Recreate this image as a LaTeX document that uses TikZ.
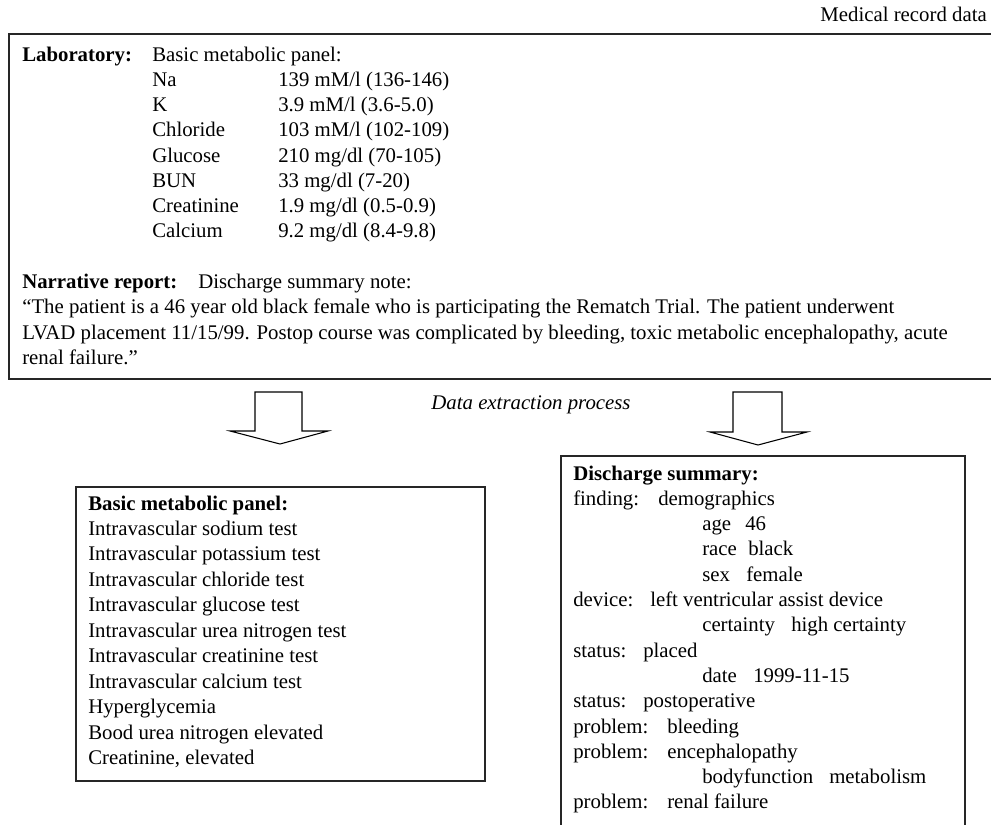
\documentclass[tikz,border=0pt]{standalone}
\usepackage{fontspec}
\setmainfont{Liberation Serif}
\newcount\tcnt
% one line of text, placed by its left end and the middle of its x-height
\newcommand\rowtxt[3]{\global\advance\tcnt by 1 \node[txt] (t\the\tcnt) at (#1,#2) {#3};}
\begin{document}
\begin{tikzpicture}[x=0.75pt,y=-0.75pt,
  txt/.style={anchor=mid west,inner sep=0pt,font=\fontsize{15.6}{18.75}\selectfont},
  frame/.style={draw=black!85,line width=1.1pt},
  hollow/.style={draw=black,line width=0.8pt,fill=white,line join=miter}]
\useasboundingbox (0,0) rectangle (991,824);

% title
\node[txt,anchor=mid east] (title) at (987,18) {Medical record data};

% source record
\draw[frame] (9,34) rectangle (1000,379);
\rowtxt{22}{58}{\textbf{Laboratory:}}
\rowtxt{152}{58}{Basic metabolic panel:}
\rowtxt{152}{83.25}{Na}         \rowtxt{278}{83.25}{139 mM/l (136-146)}
\rowtxt{152}{108.5}{K}          \rowtxt{278}{108.5}{3.9 mM/l (3.6-5.0)}
\rowtxt{152}{133.75}{Chloride}  \rowtxt{278}{133.75}{103 mM/l (102-109)}
\rowtxt{152}{159}{Glucose}      \rowtxt{278}{159}{210 mg/dl (70-105)}
\rowtxt{152}{184.25}{BUN}       \rowtxt{278}{184.25}{33 mg/dl (7-20)}
\rowtxt{152}{209.5}{Creatinine} \rowtxt{278}{209.5}{1.9 mg/dl (0.5-0.9)}
\rowtxt{152}{234.75}{Calcium}   \rowtxt{278}{234.75}{9.2 mg/dl (8.4-9.8)}
\rowtxt{22}{285.5}{\textbf{Narrative report:}}
\rowtxt{198}{285.5}{Discharge summary note:}
\rowtxt{22}{310.75}{“The patient is a 46 year old black female who is participating the Rematch Trial. The patient underwent}
\rowtxt{22}{336}{LVAD placement 11/15/99. Postop course was complicated by bleeding, toxic metabolic encephalopathy, acute}
\rowtxt{22}{361.25}{renal failure.”}

% extraction arrows
\draw[hollow] (255,392) -- (302,392) -- (302,431) -- (328,431) -- (280,444)
  -- (230,431) -- (255,431) -- cycle;
\draw[hollow] (733,392) -- (782,392) -- (782,432) -- (807,432) -- (758,445)
  -- (710,432) -- (733,432) -- cycle;
\node[txt,anchor=mid,font=\fontsize{15.6}{18.75}\selectfont\itshape] (proc) at (531,406) {Data extraction process};

% coded laboratory concepts
\draw[frame] (76,487) rectangle (485,781);
\rowtxt{88}{507}{\textbf{Basic metabolic panel:}}
\foreach \s [count=\k] in {Intravascular sodium test, Intravascular potassium test,
    Intravascular chloride test, Intravascular glucose test,
    Intravascular urea nitrogen test, Intravascular creatinine test,
    Intravascular calcium test, Hyperglycemia, Bood urea nitrogen elevated,
    {Creatinine, elevated}}{
  \node[txt] (bmp\k) at (88,507+25.45*\k) {\s};
}

% coded narrative concepts
\draw[frame] (561,456) rectangle (965,840);
\rowtxt{573}{477}{\textbf{Discharge summary:}}
\rowtxt{573}{502.3}{finding:}\rowtxt{658}{502.3}{demographics}
\rowtxt{702}{527.6}{age}\rowtxt{745}{527.6}{46}
\rowtxt{702}{552.9}{race}\rowtxt{748}{552.9}{black}
\rowtxt{702}{578.2}{sex}\rowtxt{746}{578.2}{female}
\rowtxt{573}{603.5}{device:}\rowtxt{650}{603.5}{left ventricular assist device}
\rowtxt{702}{628.8}{certainty}\rowtxt{791}{628.8}{high certainty}
\rowtxt{573}{654.1}{status:}\rowtxt{643}{654.1}{placed}
\rowtxt{702}{679.4}{date}\rowtxt{753}{679.4}{1999-11-15}
\rowtxt{573}{704.7}{status:}\rowtxt{643}{704.7}{postoperative}
\rowtxt{573}{730}{problem:}\rowtxt{667}{730}{bleeding}
\rowtxt{573}{755.3}{problem:}\rowtxt{667}{755.3}{encephalopathy}
\rowtxt{702}{780.6}{bodyfunction}\rowtxt{829}{780.6}{metabolism}
\rowtxt{573}{805.9}{problem:}\rowtxt{667}{805.9}{renal failure}
\end{tikzpicture}
\end{document}
